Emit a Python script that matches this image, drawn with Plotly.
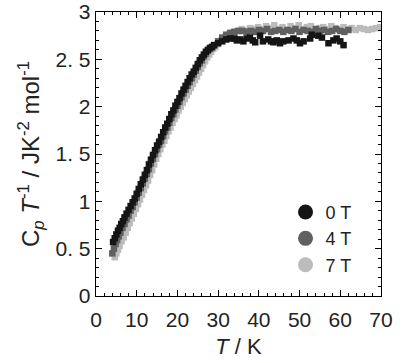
import plotly.graph_objects as go

# ---- data ----
T_0T = [4.2, 4.6, 5.0, 5.4, 5.8, 6.2, 6.6, 7.0, 7.5, 8.0, 8.5, 9.0, 9.5, 10.0, 10.5, 11.0, 11.5, 12.0,
        12.5, 13.0, 13.5, 14.0, 14.5, 15.0, 15.5, 16.0, 16.5, 17.0, 17.5, 18.0, 18.5, 19.0, 19.5, 20.0,
        20.5, 21.0, 21.5, 22.0, 22.5, 23.0, 23.5, 24.0, 24.5, 25.0, 25.5, 26.0, 26.5, 27.0, 27.5, 28.0,
        28.5, 29.0, 30.0, 31.0, 32.0, 33.0, 34.0, 34.6, 35.4, 36.2, 37.0, 37.8, 38.5, 39.1, 40.3, 41.0,
        42.3, 43.0, 43.6, 44.4, 45.2, 46.0, 47.3, 48.5, 49.3, 50.1, 51.0, 52.6, 53.0, 54.6, 55.5, 57.1,
        58.3, 59.1, 60.0, 60.8]
Y_0T = [0.57, 0.61, 0.65, 0.69, 0.72, 0.76, 0.79, 0.83, 0.87, 0.91, 0.95, 0.99, 1.03, 1.08, 1.13, 1.18,
        1.23, 1.28, 1.33, 1.39, 1.44, 1.49, 1.54, 1.59, 1.63, 1.68, 1.73, 1.78, 1.82, 1.87, 1.92, 1.96,
        2.01, 2.05, 2.09, 2.14, 2.18, 2.22, 2.26, 2.30, 2.34, 2.37, 2.41, 2.45, 2.49, 2.52, 2.55, 2.58,
        2.60, 2.62, 2.63, 2.65, 2.67, 2.69, 2.71, 2.72, 2.72, 2.70, 2.71, 2.69, 2.72, 2.73, 2.70, 2.68,
        2.75, 2.69, 2.71, 2.69, 2.68, 2.70, 2.67, 2.69, 2.70, 2.72, 2.70, 2.67, 2.69, 2.72, 2.76, 2.75,
        2.73, 2.67, 2.70, 2.72, 2.69, 2.65]

T_4T = [4.0, 4.4, 4.8, 5.2, 5.6, 6.0, 6.5, 7.0, 7.5, 8.0, 8.5, 9.0, 9.5, 10.0, 10.5, 11.0, 11.5, 12.0,
        12.5, 13.0, 13.5, 14.0, 14.5, 15.0, 15.5, 16.0, 16.5, 17.0, 17.5, 18.0, 18.5, 19.0, 19.5, 20.0,
        20.5, 21.0, 21.5, 22.0, 22.5, 23.0, 23.5, 24.0, 24.5, 25.0, 25.5, 26.0, 26.5, 27.0, 27.5, 28.0,
        28.5, 29.0, 30.0, 31.0, 32.0, 33.0, 34.0, 35.0, 36.0, 37.0, 38.0, 39.0, 40.0, 41.0, 42.0, 43.0,
        44.0, 45.0, 46.0, 47.0, 48.0, 49.0, 50.0, 51.0, 52.0, 53.0, 54.0, 55.0, 56.0, 57.0, 58.0, 59.0,
        60.0, 61.0, 62.0]
Y_4T = [0.45, 0.50, 0.55, 0.59, 0.63, 0.67, 0.72, 0.76, 0.81, 0.85, 0.90, 0.94, 0.99, 1.04, 1.09, 1.14,
        1.19, 1.24, 1.29, 1.34, 1.40, 1.45, 1.50, 1.55, 1.60, 1.64, 1.69, 1.74, 1.78, 1.83, 1.88, 1.92,
        1.97, 2.01, 2.05, 2.10, 2.14, 2.18, 2.22, 2.26, 2.30, 2.34, 2.38, 2.42, 2.46, 2.49, 2.53, 2.56,
        2.59, 2.61, 2.63, 2.65, 2.69, 2.73, 2.76, 2.78, 2.79, 2.80, 2.80, 2.79, 2.80, 2.79, 2.81, 2.80,
        2.82, 2.79, 2.80, 2.81, 2.79, 2.81, 2.80, 2.82, 2.79, 2.81, 2.80, 2.79, 2.82, 2.80, 2.81, 2.79,
        2.80, 2.82, 2.80, 2.79, 2.81]

T_7T = [4.6, 5.0, 5.4, 5.8, 6.3, 6.8, 7.3, 7.8, 8.3, 8.8, 9.3, 9.8, 10.3, 10.8, 11.3, 11.8, 12.3, 12.8,
        13.3, 13.8, 14.3, 14.8, 15.3, 15.8, 16.3, 16.8, 17.3, 17.8, 18.3, 18.8, 19.3, 19.8, 20.3, 20.8,
        21.3, 21.8, 22.3, 22.8, 23.3, 23.8, 24.3, 24.8, 25.3, 25.8, 26.3, 26.8, 27.3, 27.8, 28.3, 28.8,
        29.3, 29.8, 30.8, 31.8, 32.8, 33.8, 34.8, 35.8, 36.8, 37.8, 38.8, 39.8, 40.8, 41.8, 42.8, 43.8,
        44.8, 45.8, 46.8, 47.8, 48.8, 49.8, 50.8, 51.8, 52.8, 53.8, 54.8, 55.8, 56.8, 57.8, 58.8, 59.8,
        60.8, 61.8, 62.8, 63.8, 64.8, 65.8, 66.8, 67.8, 68.8, 69.8]
Y_7T = [0.41, 0.45, 0.49, 0.53, 0.58, 0.62, 0.67, 0.72, 0.77, 0.82, 0.87, 0.92, 0.97, 1.02, 1.07, 1.12,
        1.17, 1.22, 1.28, 1.33, 1.39, 1.45, 1.50, 1.55, 1.60, 1.64, 1.69, 1.74, 1.78, 1.83, 1.87, 1.91,
        1.96, 2.00, 2.04, 2.08, 2.12, 2.16, 2.20, 2.24, 2.28, 2.32, 2.36, 2.40, 2.44, 2.48, 2.52, 2.55,
        2.58, 2.61, 2.63, 2.66, 2.70, 2.74, 2.77, 2.79, 2.80, 2.82, 2.80, 2.83, 2.82, 2.84, 2.82, 2.85,
        2.83, 2.86, 2.82, 2.84, 2.81, 2.85, 2.83, 2.86, 2.82, 2.84, 2.85, 2.81, 2.83, 2.84, 2.82, 2.85,
        2.83, 2.81, 2.84, 2.82, 2.83, 2.81, 2.83, 2.82, 2.81, 2.82, 2.83, 2.84]

series_names = ["0 T", "4 T", "7 T"]
series_colors = ["#151515", "#606060", "#bcbcbc"]

x_tickvals = [0, 10, 20, 30, 40, 50, 60, 70]
y_tickvals = [0, 0.5, 1, 1.5, 2, 2.5, 3]
y_ticktext = ["0", "0. 5", "1", "1. 5", "2", "2. 5", "3"]

FONT = "Liberation Sans Narrow, Liberation Sans, Arial, sans-serif"

fig = go.Figure()
data = [(T_7T, Y_7T), (T_4T, Y_4T), (T_0T, Y_0T)]
order = [2, 1, 0]
for (tx, ty), i in zip(data, order):
    fig.add_trace(go.Scatter(x=tx, y=ty, mode="markers", showlegend=False,
                             marker=dict(symbol="square", size=6.5, color=series_colors[i],
                                         line=dict(width=0))))
# legend entries (circles)
for i in range(3):
    fig.add_trace(go.Scatter(x=[None], y=[None], mode="markers", name=series_names[i],
                             marker=dict(symbol="circle", size=15, color=series_colors[i])))

axis_common = dict(showgrid=False, zeroline=False, showline=True, linecolor="black", linewidth=1.3,
                   mirror="ticks", ticks="inside", ticklen=6, tickwidth=1, tickcolor="black",
                   automargin=False,
                   tickfont=dict(family=FONT, size=21, color="#222222"))

fig.update_xaxes(range=[0, 70], tickvals=x_tickvals, ticklabelstandoff=4,
                 minor=dict(ticks="inside", ticklen=3, dtick=2, tick0=0, tickcolor="black"),
                 title=dict(text="<i>T</i> / K", font=dict(family=FONT, size=22, color="#222222"), standoff=9),
                 **axis_common)
fig.update_yaxes(range=[0, 3], tickvals=y_tickvals, ticktext=y_ticktext,
                 minor=dict(ticks="inside", ticklen=3, dtick=0.1, tick0=0, tickcolor="black"),
                 title=dict(text="C<sub><i>p</i></sub> <i>T</i><sup>-1</sup> / JK<sup>-2</sup> mol<sup>-1</sup>",
                            font=dict(family=FONT, size=24, color="#222222"), standoff=9),
                 **axis_common)

fig.update_layout(
    width=404, height=363,
    margin=dict(l=96, r=23, t=12, b=67),
    paper_bgcolor="white", plot_bgcolor="white",
    hovermode=False,
    legend=dict(x=0.665, y=0.36, xanchor="left", yanchor="top", bgcolor="rgba(0,0,0,0)",
                font=dict(family=FONT, size=18, color="#222222"), itemsizing="trace",
                tracegroupgap=0),
)

fig.write_html("out.html", config={"displayModeBar": False, "staticPlot": True},
               post_script="document.body.style.margin='0';")
